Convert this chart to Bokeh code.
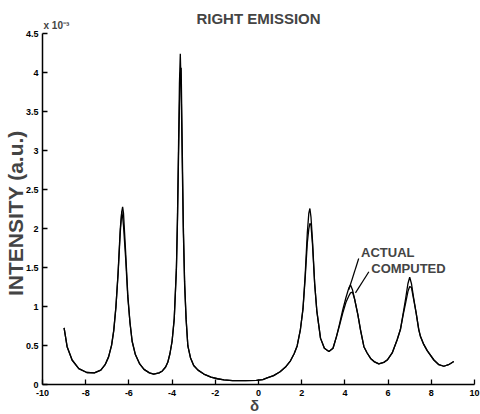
import math
from bokeh.plotting import figure
from bokeh.models import Range1d, FixedTicker, Label
from bokeh.embed import file_html
from bokeh.resources import INLINE

# ---- data (intensity in units of 1e-3) ----
delta = [
    -9.0, -8.86, -8.63, -8.32, -7.95, -7.6, -7.3, -7.1,
    -6.94, -6.8, -6.7, -6.6, -6.5, -6.4, -6.33, -6.29,
    -6.25, -6.15, -6.05, -5.95, -5.85, -5.7, -5.5, -5.3,
    -5.05, -4.85, -4.6, -4.45, -4.3, -4.2, -4.1, -4.0,
    -3.9, -3.8, -3.75, -3.7, -3.66, -3.62, -3.58, -3.53,
    -3.48, -3.42, -3.35, -3.27, -3.15, -3.0, -2.8, -2.53,
    -2.2, -1.9, -1.6, -1.2, -0.6, -0.1, 0.2, 0.4,
    0.7, 1.0, 1.25, 1.48, 1.65, 1.79, 1.94, 2.06,
    2.16, 2.26, 2.33, 2.38, 2.43, 2.5, 2.6, 2.7,
    2.87, 3.05, 3.26, 3.45, 3.61, 3.75, 3.9, 4.05,
    4.18, 4.26, 4.35, 4.45, 4.6, 4.72, 4.88, 5.03,
    5.19, 5.35, 5.57, 5.8, 5.96, 6.19, 6.42, 6.57,
    6.7, 6.82, 6.92, 7.0, 7.08, 7.18, 7.3, 7.42,
    7.5, 7.65, 7.81, 8.12, 8.35, 8.58, 8.8, 9.04,
]
actual = [
    0.73, 0.49, 0.32, 0.21, 0.16, 0.155, 0.19, 0.26,
    0.36, 0.51, 0.70, 1.00, 1.42, 1.95, 2.22, 2.28,
    2.20, 1.70, 1.15, 0.80, 0.56, 0.39, 0.27, 0.20,
    0.155, 0.14, 0.155, 0.18, 0.23, 0.29, 0.40, 0.56,
    0.85, 1.50, 2.17, 3.10, 3.86, 4.24, 3.80, 2.84,
    1.97, 1.28, 0.84, 0.50, 0.35, 0.25, 0.19, 0.14,
    0.10, 0.08, 0.065, 0.057, 0.055, 0.058, 0.07, 0.09,
    0.12, 0.17, 0.23, 0.31, 0.40, 0.50, 0.71, 0.98,
    1.40, 1.95, 2.20, 2.26, 2.15, 1.85, 1.30, 0.95,
    0.60, 0.47, 0.43, 0.47, 0.62, 0.78, 0.96, 1.12,
    1.24, 1.28, 1.22, 1.10, 0.90, 0.71, 0.49, 0.41,
    0.34, 0.30, 0.27, 0.29, 0.32, 0.41, 0.58, 0.71,
    0.92, 1.12, 1.30, 1.38, 1.30, 1.12, 0.92, 0.71,
    0.62, 0.52, 0.44, 0.32, 0.26, 0.24, 0.26, 0.30,
]
computed = [
    0.73, 0.49, 0.32, 0.21, 0.16, 0.155, 0.19, 0.26,
    0.36, 0.51, 0.70, 1.00, 1.44, 2.00, 2.22, 2.15,
    2.04, 1.62, 1.12, 0.80, 0.56, 0.39, 0.27, 0.20,
    0.155, 0.14, 0.155, 0.18, 0.23, 0.29, 0.40, 0.56,
    0.85, 1.48, 2.10, 2.95, 3.55, 3.98, 4.06, 3.05,
    2.05, 1.32, 0.84, 0.50, 0.35, 0.25, 0.19, 0.14,
    0.10, 0.08, 0.065, 0.057, 0.055, 0.058, 0.07, 0.09,
    0.12, 0.17, 0.23, 0.31, 0.40, 0.50, 0.71, 0.97,
    1.36, 1.82, 2.00, 2.07, 2.05, 1.80, 1.30, 0.95,
    0.60, 0.47, 0.43, 0.47, 0.62, 0.76, 0.92, 1.06,
    1.14, 1.18, 1.19, 1.10, 0.90, 0.71, 0.49, 0.41,
    0.34, 0.30, 0.27, 0.29, 0.32, 0.41, 0.58, 0.71,
    0.90, 1.06, 1.20, 1.26, 1.25, 1.10, 0.92, 0.71,
    0.62, 0.52, 0.44, 0.32, 0.26, 0.24, 0.26, 0.30,
]
assert len(delta) == len(actual) == len(computed)

x_ticks = [-10, -8, -6, -4, -2, 0, 2, 4, 6, 8, 10]
x_tick_labels = ["-10", "-8", "-6", "-4", "-2", "0", "2", "4", "6", "8", "10"]
y_ticks = [0, 0.5, 1, 1.5, 2, 2.5, 3, 3.5, 4, 4.5]
y_tick_labels = ["0", "0.5", "1", "1.5", "2", "2.5", "3", "3.5", "4", "4.5"]

# callout annotation (data coordinates)
actual_label_pos = (4.75, 1.69)
computed_label_pos = (5.22, 1.49)
actual_pointer = ([4.64], [1.62], [4.18], [1.22])
computed_pointer = ([5.11], [1.45], [4.49], [1.18])

FONT = "Liberation Sans"

# the frame fills the whole canvas; the axes sit at x=-10 and y=0 inside it
p = figure(width=480, height=414, x_range=Range1d(-11.944, 10.278), y_range=Range1d(-0.3777, 4.9225),
           output_backend="svg", toolbar_location=None,
           min_border_left=0, min_border_right=0, min_border_top=0, min_border_bottom=0)
p.outline_line_color = None
p.grid.visible = False
p.background_fill_color = "white"
p.border_fill_color = "white"

p.xaxis.fixed_location = 0
p.yaxis.fixed_location = -10
p.xaxis.bounds = (-10, 10)
p.yaxis.bounds = (0, 4.5)

for ax, ticks, labels in ((p.xaxis[0], x_ticks, x_tick_labels), (p.yaxis[0], y_ticks, y_tick_labels)):
    ax.ticker = FixedTicker(ticks=ticks)
    ax.major_label_overrides = {t: l for t, l in zip(ticks, labels)}
    ax.major_tick_in = 5
    ax.major_tick_out = 0
    ax.minor_tick_line_color = None
    ax.axis_line_width = 1.5
    ax.major_tick_line_width = 1.3
    ax.axis_line_color = "black"
    ax.major_tick_line_color = "black"
    ax.major_label_text_font = FONT
    ax.major_label_text_font_size = "9px"
    ax.major_label_text_font_style = "bold"
    ax.major_label_text_color = "black"
p.xaxis.major_label_standoff = 5
p.yaxis.major_label_standoff = 4

p.line(delta, actual, line_color="black", line_width=1.3)
p.line(delta, computed, line_color="black", line_width=1.3)

p.segment(x0=actual_pointer[0], y0=actual_pointer[1], x1=actual_pointer[2], y1=actual_pointer[3],
          line_color="black", line_width=1.2)
p.segment(x0=computed_pointer[0], y0=computed_pointer[1], x1=computed_pointer[2], y1=computed_pointer[3],
          line_color="black", line_width=1.2)

p.add_layout(Label(x=actual_label_pos[0], y=actual_label_pos[1], text="ACTUAL",
                   text_font=FONT, text_font_size="13px", text_font_style="bold",
                   text_baseline="alphabetic"))
p.add_layout(Label(x=computed_label_pos[0], y=computed_label_pos[1], text="COMPUTED",
                   text_font=FONT, text_font_size="13px", text_font_style="bold",
                   text_baseline="alphabetic"))

# title, axis titles and exponent marker
p.add_layout(Label(x=0, y=4.686, text="RIGHT EMISSION", text_align="center", text_baseline="middle",
                   text_font=FONT, text_font_size="15px", text_font_style="bold"))
p.add_layout(Label(x=-11.25, y=2.2, text="INTENSITY (a.u.)", angle=math.pi / 2,
                   text_align="center", text_baseline="middle", text_font=FONT,
                   text_font_size="21px", text_font_style="bold"))
p.add_layout(Label(x=-10, y=4.5, x_offset=1, y_offset=3, text="x 10\u207b\u00b3",
                   text_font=FONT, text_font_size="10px", text_font_style="bold",
                   text_baseline="bottom"))
p.add_layout(Label(x=-0.185, y=-0.365, text="\u03b4",
                   text_align="center", text_baseline="bottom", text_font=FONT,
                   text_font_size="15px", text_font_style="bold"))

open("out.html", "w").write(file_html(p, INLINE))
